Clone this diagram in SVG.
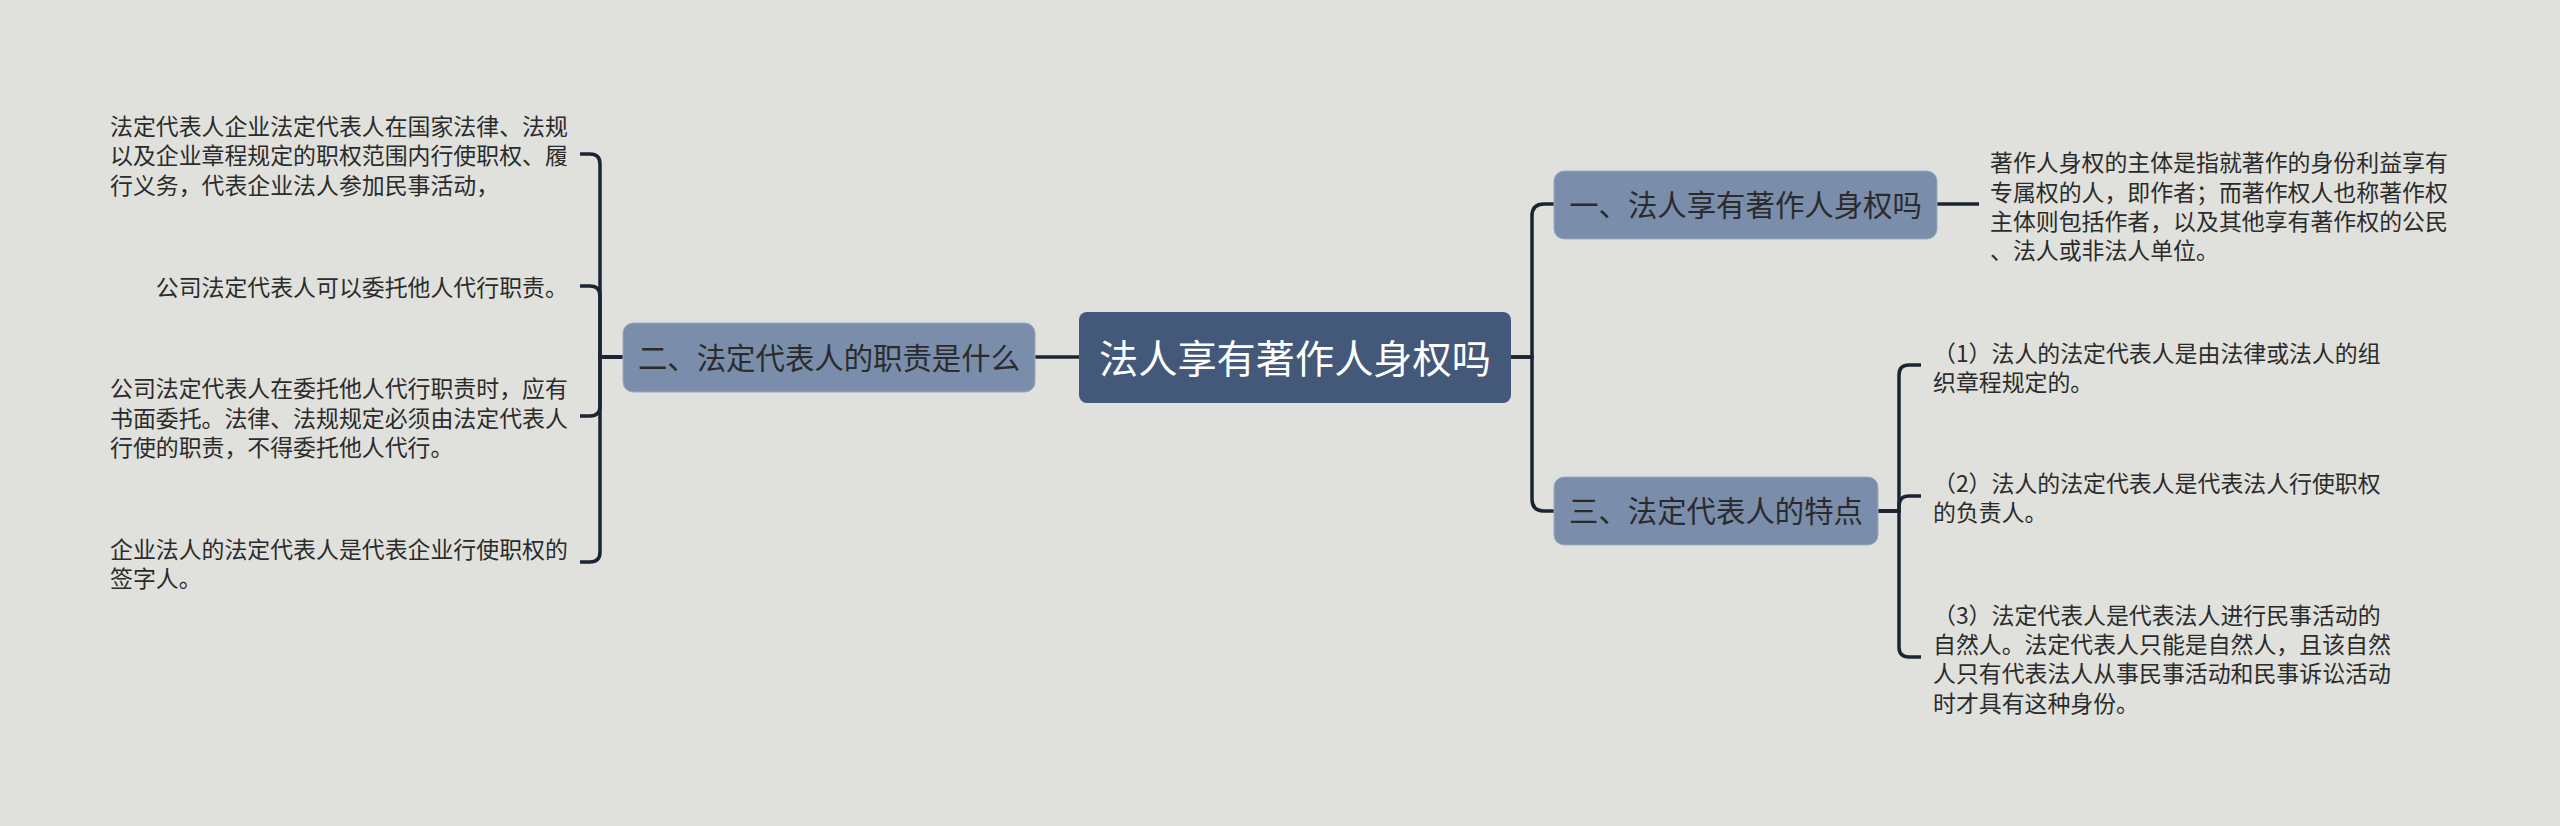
<svg xmlns="http://www.w3.org/2000/svg" width="2560" height="826" viewBox="0 0 2560 826">
<style>
.bg{fill:#e0e1dc}
.sub rect{fill:#7a8dab;stroke:#9aa9c0;stroke-width:1}
.sub text{font-family:"Noto Sans CJK SC",sans-serif;font-size:29.4px;fill:#2b2b2b;text-anchor:middle}
.root rect{fill:#44597a}
.root text{font-family:"Noto Sans CJK SC",sans-serif;font-size:39.2px;fill:#ffffff;text-anchor:middle}
.leaf text{font-family:"Noto Sans CJK SC",sans-serif;font-size:22.9px;fill:#2b2b2b}
.conn path{fill:none;stroke:#1c2433;stroke-width:3.5;stroke-linecap:butt}
</style>
<rect class="bg" x="0" y="0" width="2560" height="826"/>
<g id="connectors" class="conn">
<path d="M1079,357 H1035"/>
<path d="M623,357 H600 V164 Q600,154 590,154 H580"/>
<path d="M623,357 H600 V296 Q600,286 590,286 H580"/>
<path d="M623,357 H600 V406 Q600,416 590,416 H580"/>
<path d="M623,357 H600 V552 Q600,562 590,562 H580"/>
<path d="M1511,357 H1532 V216 Q1532,204 1544,204 H1554"/>
<path d="M1511,357 H1532 V499 Q1532,511 1544,511 H1554"/>
<path d="M1937,204 H1979"/>
<path d="M1878,511 H1899 V375 Q1899,365 1909,365 H1921"/>
<path d="M1878,511 H1899 V506 Q1899,496 1909,496 H1921"/>
<path d="M1878,511 H1899 V647 Q1899,657 1909,657 H1921"/>
</g>
<g id="root" class="root">
<rect x="1079" y="312" width="432" height="91" rx="8"/>
<text x="1295" y="372.5">法人享有著作人身权吗</text>
</g>
<g id="n1" class="sub">
<rect x="1554" y="171" width="383" height="68" rx="10"/>
<text x="1745.5" y="216.2">一、法人享有著作人身权吗</text>
</g>
<g id="n2" class="sub">
<rect x="623" y="323" width="412" height="69" rx="10"/>
<text x="829" y="368.7">二、法定代表人的职责是什么</text>
</g>
<g id="n3" class="sub">
<rect x="1554" y="477" width="324" height="68" rx="10"/>
<text x="1716" y="522.2">三、法定代表人的特点</text>
</g>
<g id="l1" class="leaf">
<text x="110" y="134.8">法定代表人企业法定代表人在国家法律、法规</text>
<text x="110" y="164.2">以及企业章程规定的职权范围内行使职权、履</text>
<text x="110" y="193.6">行义务，代表企业法人参加民事活动，</text>
</g>
<g id="l2" class="leaf">
<text x="110" y="295.7">　　公司法定代表人可以委托他人代行职责。</text>
</g>
<g id="l3" class="leaf">
<text x="110" y="397.3">公司法定代表人在委托他人代行职责时，应有</text>
<text x="110" y="426.7">书面委托。法律、法规规定必须由法定代表人</text>
<text x="110" y="456.1">行使的职责，不得委托他人代行。</text>
</g>
<g id="l4" class="leaf">
<text x="110" y="558">企业法人的法定代表人是代表企业行使职权的</text>
<text x="110" y="587.4">签字人。</text>
</g>
<g id="r1" class="leaf">
<text x="1990" y="171.1">著作人身权的主体是指就著作的身份利益享有</text>
<text x="1990" y="200.5">专属权的人，即作者；而著作权人也称著作权</text>
<text x="1990" y="229.9">主体则包括作者，以及其他享有著作权的公民</text>
<text x="1990" y="259.3">、法人或非法人单位。</text>
</g>
<g id="r2" class="leaf">
<text x="1933" y="362">（1）法人的法定代表人是由法律或法人的组</text>
<text x="1933" y="391.4">织章程规定的。</text>
</g>
<g id="r3" class="leaf">
<text x="1933" y="491.5">（2）法人的法定代表人是代表法人行使职权</text>
<text x="1933" y="520.9">的负责人。</text>
</g>
<g id="r4" class="leaf">
<text x="1933" y="623.6">（3）法定代表人是代表法人进行民事活动的</text>
<text x="1933" y="653">自然人。法定代表人只能是自然人，且该自然</text>
<text x="1933" y="682.4">人只有代表法人从事民事活动和民事诉讼活动</text>
<text x="1933" y="711.8">时才具有这种身份。</text>
</g>
</svg>
